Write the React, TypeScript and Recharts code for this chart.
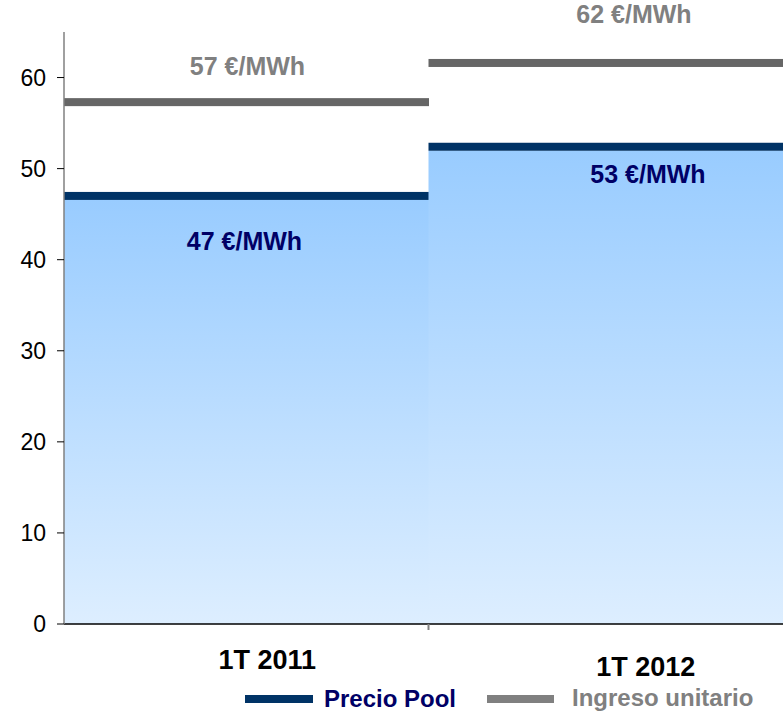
import React from 'react';
import { ComposedChart, Bar, XAxis, YAxis, Legend, LabelList } from 'recharts';

const categories = ['1T 2011', '1T 2012'];
const precioPool = [47, 52.4];
const ingresoUnitario = [57.3, 61.6];
const precioPoolLabels = ['47 €/MWh', '53 €/MWh'];
const ingresoLabels = ['57 €/MWh', '62 €/MWh'];
const yTicks = [0, 10, 20, 30, 40, 50, 60];
const seriesNames = ['Precio Pool', 'Ingreso unitario'];

const data = categories.map((name, i) => ({
  name,
  pool: precioPool[i],
  ingreso: ingresoUnitario[i],
  poolLabel: precioPoolLabels[i],
  ingresoLabel: ingresoLabels[i],
}));

const FONT = '"Liberation Sans", Arial, sans-serif';
const NAVY = '#003366';
const NAVY_TEXT = '#000066';
const GREY_LINE = '#666666';
const GREY_TEXT = '#808080';

// label offsets from the bar centre / top
const POOL_LABEL_POS = [{ dx: -2, dy: 54 }, { dx: 37, dy: 36 }];
const INGRESO_LABEL_POS = [{ dx: 1, dy: -27 }, { dx: 23, dy: -40 }];
const X_LABEL_POS = [{ dx: 21, dy: 45 }, { dx: 35, dy: 52 }];

const PoolShape = (props: any) => {
  const { x, y, width, height } = props;
  return (
    <g>
      <rect x={x} y={y + 4} width={width} height={Math.max(height - 4, 0)} fill="url(#poolGrad)" />
      <rect x={x} y={y - 4} width={width} height={8} fill={NAVY} />
    </g>
  );
};

const IngresoShape = (props: any) => {
  const { x, y, width } = props;
  return <rect x={x} y={y - 4} width={width} height={8} fill={GREY_LINE} />;
};

const makeLabel = (pos: { dx: number; dy: number }[], color: string) => (props: any) => {
  const { x, y, width, value, index } = props;
  const p = pos[index] || { dx: 0, dy: 0 };
  return (
    <text
      x={x + width / 2 + p.dx}
      y={y + p.dy}
      textAnchor="middle"
      fill={color}
      fontSize={25}
      fontWeight="bold"
      fontFamily={FONT}
    >
      {value}
    </text>
  );
};

const XTick = (props: any) => {
  const { x, y, payload, index } = props;
  const p = X_LABEL_POS[index] || { dx: 0, dy: 40 };
  const half = payload && payload.offset ? payload.offset : 0;
  return (
    <g>
      {index === 0 && half > 0 && (
        <line x1={x + half} x2={x + half} y1={y} y2={y + 6} stroke="#808080" strokeWidth={2} />
      )}
      <text
        x={x + p.dx}
        y={y + p.dy}
        textAnchor="middle"
        fill="#000"
        fontSize={27}
        fontWeight="bold"
        fontFamily={FONT}
      >
        {payload.value}
      </text>
    </g>
  );
};

const LegendContent = () => (
  <svg width={783} height={28}>
    <rect x={245} y={11} width={68} height={8} fill={NAVY} />
    <text x={324} y={23} fill={NAVY_TEXT} fontSize={24} fontWeight="bold" fontFamily={FONT}>
      {seriesNames[0]}
    </text>
    <rect x={487} y={11} width={67} height={8} fill={GREY_TEXT} />
    <text x={572} y={22} fill={GREY_TEXT} fontSize={24} fontWeight="bold" fontFamily={FONT}>
      {seriesNames[1]}
    </text>
  </svg>
);

export default function App() {
  return (
    <div
      style={{
        position: 'fixed',
        left: 0,
        top: 0,
        width: 783,
        height: 712,
        overflow: 'hidden',
        background: '#fff',
        fontFamily: FONT,
      }}
    >
      <ComposedChart
        width={793}
        height={712}
        data={data}
        margin={{ top: 32, right: 0, bottom: 28, left: 0 }}
        barCategoryGap={0}
        barGap={0}
      >
        <defs>
          <linearGradient id="poolGrad" x1="0" y1="0" x2="0" y2="1">
            <stop offset="0%" stopColor="#99CCFF" />
            <stop offset="100%" stopColor="#DDEEFF" />
          </linearGradient>
        </defs>
        <XAxis
          xAxisId="a"
          dataKey="name"
          height={60}
          interval={0}
          tickSize={0}
          tickMargin={0}
          tickLine={false}
          axisLine={{ stroke: '#000', strokeWidth: 1.5 }}
          tick={<XTick />}
        />
        <XAxis xAxisId="b" dataKey="name" hide />
        <YAxis
          type="number"
          domain={[0, 65]}
          ticks={yTicks}
          interval={0}
          width={64}
          tickSize={7}
          tickMargin={11}
          axisLine={{ stroke: '#808080', strokeWidth: 1.5 }}
          tickLine={{ stroke: '#000' }}
          tick={{ fontSize: 23, fill: '#000', fontFamily: FONT }}
        />
        <Bar
          xAxisId="a"
          dataKey="pool"
          name={seriesNames[0]}
          shape={<PoolShape />}
          isAnimationActive={false}
        >
          <LabelList dataKey="poolLabel" content={makeLabel(POOL_LABEL_POS, NAVY_TEXT)} />
        </Bar>
        <Bar
          xAxisId="b"
          dataKey="ingreso"
          name={seriesNames[1]}
          shape={<IngresoShape />}
          isAnimationActive={false}
        >
          <LabelList dataKey="ingresoLabel" content={makeLabel(INGRESO_LABEL_POS, GREY_TEXT)} />
        </Bar>
        <Legend
          layout="horizontal"
          verticalAlign="middle"
          align="center"
          content={<LegendContent />}
          wrapperStyle={{ top: 684, left: 0, width: 783, height: 28 }}
        />
      </ComposedChart>
    </div>
  );
}
